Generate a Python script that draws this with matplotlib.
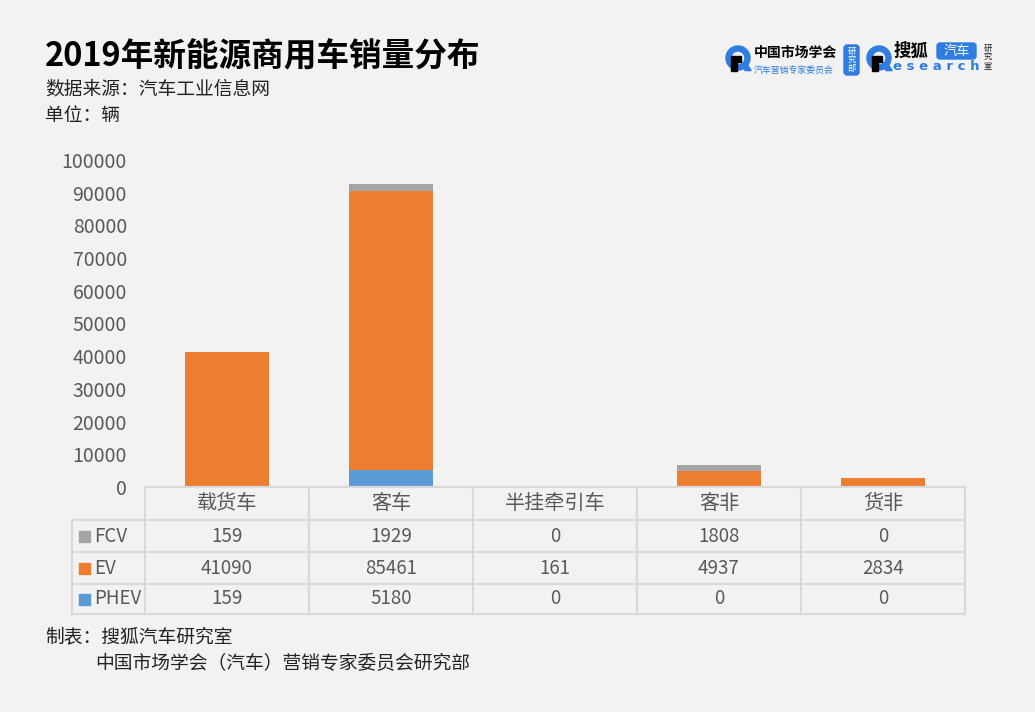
import numpy as np
import matplotlib.pyplot as plt
from matplotlib.patches import Rectangle, FancyBboxPatch, Wedge, Polygon

plt.rcParams['font.family'] = ['Noto Sans CJK SC', 'DejaVu Sans']

categories = ["载货车", "客车", "半挂牵引车", "客非", "货非"]
series_names = ["FCV", "EV", "PHEV"]
fcv = [159, 1929, 0, 1808, 0]
ev = [41090, 85461, 161, 4937, 2834]
phev = [159, 5180, 0, 0, 0]
y_ticks = [0, 10000, 20000, 30000, 40000, 50000, 60000, 70000, 80000, 90000, 100000]

C_FCV = "#a5a5a5"
C_EV = "#ed7d31"
C_PHEV = "#5b9bd5"
BG = "#f2f2f2"
GRID = "#d9d9d9"
GREY_TXT = "#595959"

W, H = 1035, 712
fig = plt.figure(figsize=(W / 100, H / 100), dpi=100, facecolor=BG)

# plot area in pixels
L, R, B, T = 145, 965, 487, 160
ax = fig.add_axes([L / W, 1 - B / H, (R - L) / W, (B - T) / H])
ax.set_facecolor(BG)
x = np.arange(len(categories))
bw = 0.51
ax.bar(x, phev, bw, color=C_PHEV)
ax.bar(x, ev, bw, bottom=phev, color=C_EV)
bottom2 = np.array(phev) + np.array(ev)
ax.bar(x, fcv, bw, bottom=bottom2, color=C_FCV)
ax.set_xlim(-0.5, len(categories) - 0.5)
ax.set_ylim(0, 100000)
ax.set_yticks(y_ticks)
ax.set_yticklabels([str(v) for v in y_ticks], fontsize=14, color=GREY_TXT)
ax.tick_params(axis="y", length=0, pad=13)
ax.set_xticks([])
for s in ax.spines.values():
    s.set_visible(False)

# overlay in pixel coords
ov = fig.add_axes([0, 0, 1, 1])
ov.set_xlim(0, W)
ov.set_ylim(H, 0)
ov.axis("off")
ov.patch.set_alpha(0)

# data table under the bars
col_w = (R - L) / len(categories)
rows_y = [487, 520, 552, 584, 614]
lab_x0 = 72
lw = 1.6
ov.plot([L, R], [rows_y[0], rows_y[0]], color=GRID, lw=lw)
for yy in rows_y[1:]:
    ov.plot([lab_x0, R], [yy, yy], color=GRID, lw=lw)
ov.plot([lab_x0, lab_x0], [rows_y[1], rows_y[-1]], color=GRID, lw=lw)
for i in range(len(categories) + 1):
    xx = L + i * col_w
    ov.plot([xx, xx], [rows_y[0], rows_y[-1]], color=GRID, lw=lw)

for i, c in enumerate(categories):
    cx = L + (i + 0.5) * col_w
    ov.text(cx, (rows_y[0] + rows_y[1]) / 2, c, ha="center", va="center",
            fontsize=14.5, color=GREY_TXT)

table_rows = [fcv, ev, phev]
colors = [C_FCV, C_EV, C_PHEV]
for r, (name, vals, col) in enumerate(zip(series_names, table_rows, colors)):
    cy = (rows_y[r + 1] + rows_y[r + 2]) / 2
    ov.add_patch(Rectangle((79, cy - 5), 11, 11, color=col))
    ov.text(94, cy, name, ha="left", va="center", fontsize=13.5, color=GREY_TXT)
    for i, v in enumerate(vals):
        cx = L + (i + 0.5) * col_w
        ov.text(cx, cy, str(v), ha="center", va="center", fontsize=13.5, color=GREY_TXT)

# titles
ov.text(45, 57, "2019年新能源商用车销量分布", fontsize=23.5, fontweight="bold",
        color="black", ha="left", va="center")
ov.text(45, 89, "数据来源：汽车工业信息网", fontsize=13.5, color="#222222", ha="left", va="center")
ov.text(45, 116, "单位：辆", fontsize=13.5, color="#222222", ha="left", va="center")

# footer
ov.text(45, 637, "制表：搜狐汽车研究室", fontsize=13.5, color="#222222", ha="left", va="center")
ov.text(95, 664, "中国市场学会（汽车）营销专家委员会研究部", fontsize=13.5, color="#222222",
        ha="left", va="center")

# logos
BLUE = "#2f7de1"


def ring_logo(cx, cy, r):
    ov.add_patch(Wedge((cx, cy), r, 0, 360, width=r * 0.42, color=BLUE))
    ov.add_patch(Polygon([[cx - r * 0.55, cy - r * 0.2], [cx + r * 0.25, cy - r * 0.2],
                          [cx + r * 0.25, cy + r * 0.35], [cx - r * 0.1, cy + r * 0.35],
                          [cx - r * 0.1, cy + r * 1.05], [cx - r * 0.55, cy + r * 1.05]],
                         color="black"))
    ov.add_patch(Polygon([[cx + r * 0.3, cy + r * 0.6], [cx + r * 0.75, cy + r * 0.5],
                          [cx + r * 1.1, cy + r * 1.05], [cx + r * 0.6, cy + r * 1.05]],
                         color=BLUE))


ring_logo(738, 58, 12)
ov.text(754, 53, "中国市场学会", fontsize=10, fontweight="bold", color="black",
        ha="left", va="center")
ov.text(754, 70, "汽车营销专家委员会", fontsize=6.4, color=BLUE, ha="left", va="center")
ov.add_patch(FancyBboxPatch((844, 45), 15, 30, boxstyle="round,pad=0,rounding_size=3",
                            color=BLUE))
ov.text(851.5, 60, "研\n究\n部", fontsize=6, color="white", ha="center", va="center",
        linespacing=1.0)

ring_logo(879, 58, 12)
ov.text(894, 51, "搜狐", fontsize=12.5, fontweight="bold", color="black",
        ha="left", va="center")
ov.add_patch(FancyBboxPatch((937, 43), 39, 16, boxstyle="round,pad=0,rounding_size=3",
                            color=BLUE))
ov.text(956.5, 51, "汽车", fontsize=9.5, color="white", ha="center", va="center")
ov.text(893, 67, "e s e a r c h", fontsize=9.5, fontweight="bold", color=BLUE,
        ha="left", va="center", family="DejaVu Sans")
ov.text(988, 57, "研\n究\n室", fontsize=6, color="#222222", ha="center", va="center",
        linespacing=1.0)

fig.savefig("out.png", dpi=100, facecolor=BG)
